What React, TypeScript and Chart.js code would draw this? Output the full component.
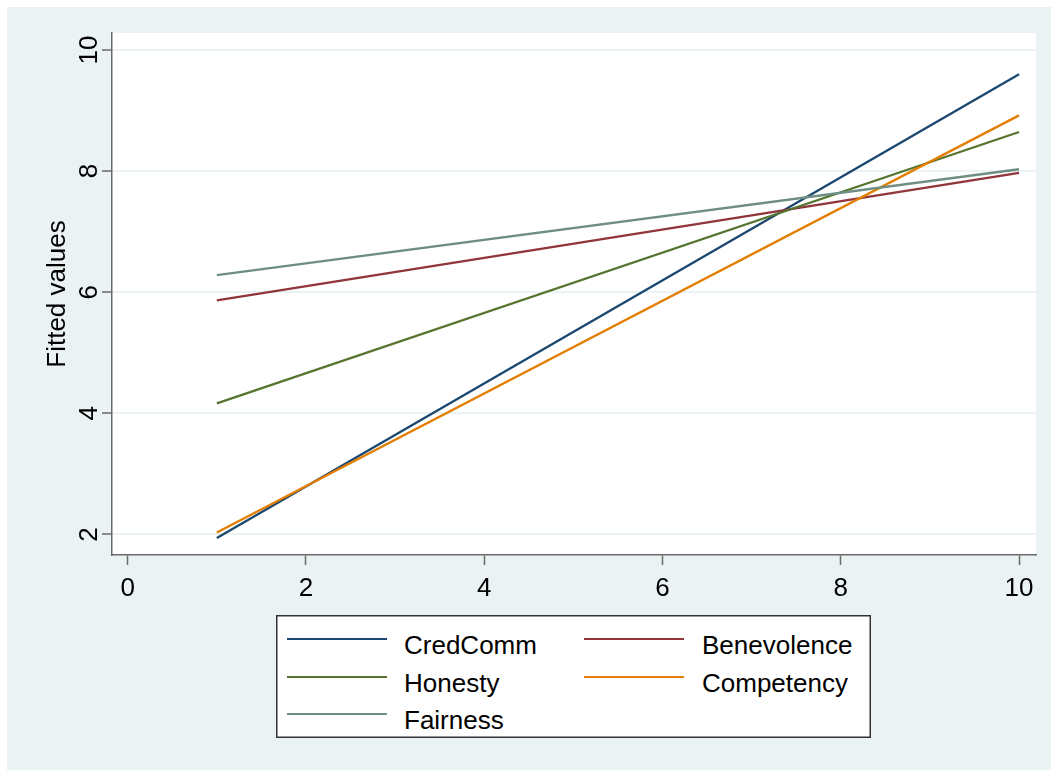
import React, { useEffect, useRef } from "react";
import { Chart, registerables } from "chart.js";

Chart.register(...registerables);

// Fitted regression lines, evaluated at both ends of the 1–10 range
const seriesNames = ["CredComm", "Benevolence", "Honesty", "Competency", "Fairness"];
const seriesColors = ["#1a476f", "#90353b", "#55752f", "#e37e00", "#6e8e84"];
const xEnds = [1, 10];
const credComm = [1.94, 9.6];
const benevolence = [5.865, 7.97];
const honesty = [4.165, 8.645];
const competency = [2.03, 8.92];
const fairness = [6.28, 8.03];
const seriesValues = [credComm, benevolence, honesty, competency, fairness];

const xTicks = [0, 2, 4, 6, 8, 10];
const yTicks = [2, 4, 6, 8, 10];
const yTitle = "Fitted values";

const FONT = '"Liberation Sans", Arial, sans-serif';
const BG = "#EAF2F3";
const AXIS = "#6a6a6a";

const W = 1044;
const H = 763;

// white plot region on the tinted graph region
const plotBackground = {
  id: "plotBackground",
  beforeDraw(chart: any) {
    const { ctx, chartArea } = chart;
    if (!chartArea) return;
    ctx.save();
    ctx.fillStyle = "#ffffff";
    ctx.fillRect(chartArea.left, chartArea.top, chartArea.right - chartArea.left, chartArea.bottom - chartArea.top);
    ctx.restore();
  },
};

// legend layout: row-major, two columns
const legendCols = [
  { line: 11, text: 128 },
  { line: 308, text: 426 },
];
const legendRows = [24, 62, 99];

export default function App() {
  const canvasRef = useRef<HTMLCanvasElement | null>(null);

  useEffect(() => {
    const canvas = canvasRef.current;
    if (!canvas) return;
    const n = seriesNames.length;
    const chart = new Chart(canvas, {
      type: "line",
      data: {
        datasets: seriesNames.map((name, i) => ({
          label: name,
          data: xEnds.map((x, j) => ({ x, y: seriesValues[i][j] })),
          borderColor: seriesColors[i],
          backgroundColor: seriesColors[i],
          borderWidth: 2.3,
          pointRadius: 0,
          tension: 0,
          fill: false,
          order: n - i,
        })),
      },
      options: {
        responsive: false,
        animation: false,
        events: [],
        layout: { padding: { top: 26, right: 15, left: 0, bottom: 0 } },
        plugins: {
          legend: { display: false },
          tooltip: { enabled: false },
        },
        scales: {
          x: {
            type: "linear",
            min: -0.176,
            max: 10.19,
            afterBuildTicks: (s: any) => {
              s.ticks = xTicks.map((v) => ({ value: v }));
            },
            afterFit: (s: any) => {
              s.height = 215;
            },
            grid: {
              drawOnChartArea: false,
              drawTicks: true,
              tickLength: 10,
              tickColor: AXIS,
              tickWidth: 1.5,
            },
            border: { display: true, color: AXIS, width: 1.5 },
            ticks: {
              font: { family: FONT, size: 26 },
              color: "#000",
              padding: 8,
              minRotation: 0,
              maxRotation: 0,
            },
          },
          y: {
            type: "linear",
            min: 1.66,
            max: 10.28,
            afterBuildTicks: (s: any) => {
              s.ticks = yTicks.map((v) => ({ value: v }));
            },
            afterFit: (s: any) => {
              s.width = 105;
            },
            grid: {
              color: BG,
              lineWidth: 2,
              drawTicks: true,
              tickLength: 10,
              tickColor: AXIS,
              tickWidth: 1.5,
            },
            border: { display: true, color: AXIS, width: 1.5 },
            ticks: {
              font: { family: FONT, size: 26 },
              color: "#000",
              padding: -2,
              minRotation: 90,
              maxRotation: 90,
              crossAlign: "center",
            },
            title: {
              display: true,
              text: yTitle,
              font: { family: FONT, size: 26 },
              color: "#000",
              padding: { top: 35, bottom: 0 },
            },
          },
        },
      },
      plugins: [plotBackground],
    });
    return () => chart.destroy();
  }, []);

  return (
    <div
      style={{
        position: "fixed",
        left: 7,
        top: 7,
        width: W,
        height: H,
        background: BG,
      }}
    >
      <canvas ref={canvasRef} width={W} height={H} style={{ display: "block", width: W, height: H }} />
      <div
        style={{
          position: "absolute",
          left: 269,
          top: 608,
          width: 595,
          height: 123,
          background: "#fff",
          boxShadow: "inset 0 0 0 1.5px #333",
          fontFamily: FONT,
          fontSize: 26,
          color: "#000",
        }}
      >
        {seriesNames.map((name, i) => {
          const col = legendCols[i % 2];
          const rowY = legendRows[Math.floor(i / 2)];
          return (
            <React.Fragment key={name}>
              <div
                style={{
                  position: "absolute",
                  left: col.line,
                  top: rowY - 1.25,
                  width: 100,
                  height: 2.5,
                  background: seriesColors[i],
                }}
              />
              <span
                style={{
                  position: "absolute",
                  left: col.text,
                  top: rowY - 8,
                  lineHeight: "28px",
                  whiteSpace: "nowrap",
                }}
              >
                {name}
              </span>
            </React.Fragment>
          );
        })}
      </div>
    </div>
  );
}
